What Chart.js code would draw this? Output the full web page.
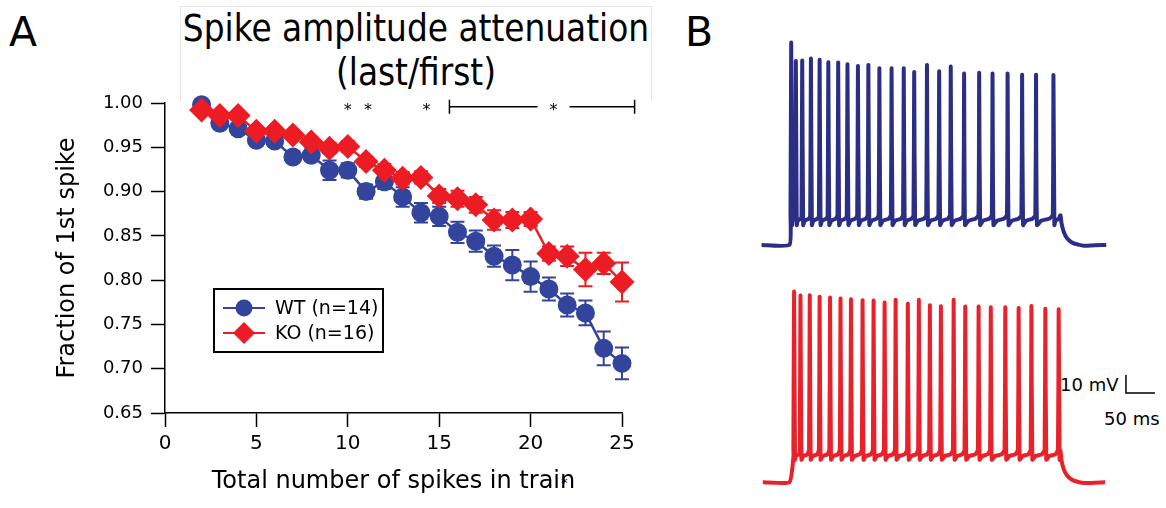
<!DOCTYPE html>
<html>
<head>
<meta charset="utf-8">
<script src="https://cdn.jsdelivr.net/npm/chart.js@4.4.1/dist/chart.umd.min.js"></script>
<style>
    body { margin: 0; background: #fff; width: 1166px; height: 508px; overflow: hidden; position: relative; font-family: "DejaVu Sans", sans-serif; color: #000; }
    canvas { position: absolute; }
    .txt { position: absolute; white-space: nowrap; line-height: 1; }
    #titleBox { position: absolute; left: 180px; top: 6px; width: 470px; height: 94px; border: 1px solid #e6e6e6; border-bottom: none; }
    #title { position: absolute; left: 180px; top: 7px; width: 472px; text-align: center; font-family: "DejaVu Sans Condensed", "DejaVu Sans", sans-serif; font-size: 36.5px; line-height: 44px; }
</style>
</head>
<body>
<div id="titleBox"></div>
<div id="title">Spike amplitude attenuation<br>(last/first)</div>
<div class="txt" style="left:9px;top:12px;font-size:41px">A</div>
<div class="txt" style="left:685px;top:12px;font-size:41px">B</div>
<div class="txt" style="left:1060px;top:376px;font-size:18px">10 mV</div>
<div class="txt" style="left:1104px;top:410px;font-size:18px">50 ms</div>
<div class="txt" style="left:561px;top:476px;font-size:13px">*</div>

<canvas id="chartA" width="700" height="508" style="left:0;top:0"></canvas>
<canvas id="traceWT" width="416" height="230" style="left:750px;top:30px"></canvas>
<canvas id="traceKO" width="416" height="230" style="left:750px;top:270px"></canvas>

<script>
// panel A: fraction of 1st spike vs spike count
const spikeCount = [2, 3, 4, 5, 6, 7, 8, 9, 10, 11, 12, 13, 14, 15, 16, 17, 18, 19, 20, 21, 22, 23, 24, 25]
const wtMean = [0.998, 0.977, 0.971, 0.958, 0.957, 0.939, 0.941, 0.924, 0.924, 0.900, 0.911, 0.894, 0.876, 0.872, 0.854, 0.844, 0.827, 0.817, 0.804, 0.790, 0.772, 0.763, 0.723, 0.706]
const wtSem = [0.003, 0.004, 0.004, 0.005, 0.005, 0.006, 0.006, 0.011, 0.008, 0.008, 0.008, 0.011, 0.011, 0.011, 0.012, 0.012, 0.012, 0.017, 0.017, 0.013, 0.013, 0.014, 0.019, 0.018]
const koMean = [0.992, 0.986, 0.986, 0.968, 0.968, 0.964, 0.956, 0.949, 0.951, 0.934, 0.924, 0.915, 0.916, 0.895, 0.892, 0.885, 0.868, 0.868, 0.869, 0.830, 0.827, 0.812, 0.819, 0.798]
const koSem = [0.004, 0.004, 0.004, 0.005, 0.005, 0.005, 0.006, 0.006, 0.006, 0.006, 0.007, 0.007, 0.007, 0.008, 0.009, 0.009, 0.011, 0.009, 0.008, 0.008, 0.011, 0.019, 0.012, 0.022]
const seriesNames = ["WT (n=14)", "KO (n=16)"]
const xTicks = [0, 5, 10, 15, 20, 25]

// significance marks
const sigStarsX = [10, 11.1, 14.3]
const sigBracket = [15.56, 20.38, 22.13, 25.69]
const sigBracketStar = 21.25
const sigLevel = 0.9958

// panel B: example voltage traces (ms, mV)
const wtSpikeTimes = [71, 79, 90, 105, 120, 135, 152, 168, 186, 204, 223, 244, 265, 283, 305, 326, 346, 369, 395, 418, 444, 469, 493, 523]
const wtSpikePeaks = [42.4, 32.2, 32.4, 33.5, 32.8, 31.5, 31.3, 30.4, 29.4, 30.0, 28.2, 28.2, 28.2, 26.1, 30.0, 26.5, 29.1, 25.2, 25.6, 25.2, 25.2, 24.6, 24.6, 24.4]
const koSpikeTimes = [76, 87, 103, 120, 138, 156, 174, 194, 213, 232, 251, 272, 291, 310, 329, 351, 371, 394, 415, 440, 463, 485, 509, 532]
const koSpikePeaks = [35.9, 33.7, 33.9, 33.1, 32.6, 32.0, 31.7, 31.1, 30.9, 29.8, 31.3, 29.2, 31.3, 28.3, 27.8, 31.3, 27.6, 27.6, 27.2, 27.2, 26.8, 27.9, 26.4, 26.1]
const decayTimes = [2, 6, 12, 22, 40]
const decayVolts = [-58, -63, -66.5, -69, -70.5]

const blue = "#32449b"
const red = "#ed1c24"
const font = "DejaVu Sans"

Chart.defaults.font.family = font
Chart.defaults.color = "#000"

const toPoints = (xs, ys) => xs.map((x, i) => ({ x: x, y: ys[i] }))

const errorBars = {
    id: "errorBars",
    beforeDatasetsDraw(chart) {
        const ctx = chart.ctx
        const { x, y } = chart.scales
        const sets = [[wtMean, wtSem, blue], [koMean, koSem, red]]
        ctx.save()
        ctx.lineWidth = 2
        sets.forEach(([mean, sem, color]) => {
            ctx.strokeStyle = color
            spikeCount.forEach((n, i) => {
                const px = x.getPixelForValue(n)
                const top = y.getPixelForValue(mean[i] + sem[i])
                const bottom = y.getPixelForValue(mean[i] - sem[i])
                ctx.beginPath()
                ctx.moveTo(px, top); ctx.lineTo(px, bottom)
                ctx.moveTo(px - 7, top); ctx.lineTo(px + 7, top)
                ctx.moveTo(px - 7, bottom); ctx.lineTo(px + 7, bottom)
                ctx.stroke()
            })
        })
        ctx.restore()
    }
}

const significance = {
    id: "significance",
    afterDraw(chart) {
        const ctx = chart.ctx
        const { x, y } = chart.scales
        const py = y.getPixelForValue(sigLevel)
        ctx.save()
        ctx.fillStyle = "#000"
        ctx.strokeStyle = "#000"
        ctx.font = `16px "${font}"`
        ctx.textAlign = "center"
        ctx.textBaseline = "middle"
        const star = v => ctx.fillText("*", x.getPixelForValue(v), py + 4)
        sigStarsX.forEach(star)
        star(sigBracketStar)
        const [a, b, c, d] = sigBracket.map(v => x.getPixelForValue(v))
        ctx.lineWidth = 1.5
        ctx.beginPath()
        ctx.moveTo(a, py); ctx.lineTo(b, py)
        ctx.moveTo(c, py); ctx.lineTo(d, py)
        ctx.moveTo(a, py - 7); ctx.lineTo(a, py + 7)
        ctx.moveTo(d, py - 7); ctx.lineTo(d, py + 7)
        ctx.stroke()
        ctx.restore()
    }
}

const legendBox = {
    id: "legendBox",
    afterDraw(chart) {
        const ctx = chart.ctx
        const { left, top } = chart.chartArea
        const bx = left + 49, by = top + 186
        ctx.save()
        ctx.lineWidth = 2
        ctx.strokeStyle = "#000"
        ctx.strokeRect(bx, by, 169, 63)
        const rows = [[blue, "circle"], [red, "diamond"]]
        rows.forEach(([color, shape], i) => {
            const cy = by + 19 + i * 25
            const cx = bx + 30
            ctx.strokeStyle = color
            ctx.fillStyle = color
            ctx.lineWidth = 2
            ctx.beginPath()
            ctx.moveTo(bx + 9, cy); ctx.lineTo(bx + 51, cy)
            ctx.stroke()
            ctx.beginPath()
            if (shape === "circle") {
                ctx.arc(cx, cy, 8.5, 0, Math.PI * 2)
            } else {
                ctx.moveTo(cx - 11, cy); ctx.lineTo(cx, cy - 11)
                ctx.lineTo(cx + 11, cy); ctx.lineTo(cx, cy + 11)
                ctx.closePath()
            }
            ctx.fill()
            ctx.fillStyle = "#000"
            ctx.font = `19px "${font}"`
            ctx.textBaseline = "middle"
            ctx.fillText(seriesNames[i], bx + 61, cy + 1)
        })
        ctx.restore()
    }
}

new Chart(document.querySelector("#chartA"), {
    type: "line",
    data: {
        datasets: [
            {
                label: seriesNames[0],
                data: toPoints(spikeCount, wtMean),
                borderColor: blue,
                backgroundColor: blue,
                borderWidth: 2.5,
                pointStyle: "circle",
                pointRadius: 9.5,
                pointBorderWidth: 0,
                clip: false,
                order: 1
            },
            {
                label: seriesNames[1],
                data: toPoints(spikeCount, koMean),
                borderColor: red,
                backgroundColor: red,
                borderWidth: 2.5,
                pointStyle: "rectRot",
                pointRadius: 12.5,
                pointBorderWidth: 0,
                clip: false,
                order: 0
            }
        ]
    },
    options: {
        responsive: false,
        animation: false,
        events: [],
        layout: { padding: { top: 103, right: 78, left: 0, bottom: 0 } },
        plugins: { legend: { display: false }, tooltip: { enabled: false } },
        scales: {
            x: {
                type: "linear",
                min: 0,
                max: 25,
                afterBuildTicks: scale => { scale.ticks = xTicks.map(v => ({ value: v })) },
                afterFit: scale => { scale.height = 95 },
                ticks: { font: { size: 20 }, color: "#000", padding: 5, maxRotation: 0 },
                grid: { drawOnChartArea: false, drawTicks: true, tickLength: 14, tickColor: "#000", tickWidth: 1.5 },
                border: { display: true, color: "#000", width: 1.5 },
                title: { display: true, text: "Total number of spikes in train", font: { size: 24 }, color: "#000", padding: { top: 0, bottom: 12 } }
            },
            y: {
                min: 0.65,
                max: 1.0,
                afterFit: scale => { scale.width = 165 },
                ticks: { stepSize: 0.05, font: { size: 18 }, color: "#000", padding: 8, callback: v => v.toFixed(2) },
                grid: { drawOnChartArea: false, drawTicks: true, tickLength: 14, tickColor: "#000", tickWidth: 1.5 },
                border: { display: true, color: "#000", width: 1.5 },
                title: { display: true, text: "Fraction of 1st spike", font: { size: 24 }, color: "#000", padding: { top: 53, bottom: 0 } }
            }
        }
    },
    plugins: [errorBars, significance, legendBox]
})

// membrane trace: AHP trough after each spike, flat plateau, slow climb to threshold
function buildTrace(times, peaks, env) {
    const pts = [{ x: env.start, y: env.rest }, { x: env.on, y: env.rest }]
    if (env.rise) pts.push({ x: env.on + env.rise, y: env.plateau })
    times.forEach((t, i) => {
        const next = i < times.length - 1 ? times[i + 1] : env.off
        const isi = next - t
        pts.push({ x: t - 1.2, y: env.threshold })
        pts.push({ x: t, y: peaks[i] })
        pts.push({ x: t + 1.6, y: env.trough })
        if (isi > 6) {
            pts.push({ x: t + isi * 0.3, y: env.plateau })
            pts.push({ x: t + isi * 0.75, y: env.plateau + 1 })
        }
    })
    pts.push({ x: env.off, y: env.threshold })
    decayTimes.forEach((dt, k) => pts.push({ x: env.off + dt, y: decayVolts[k] }))
    pts.push({ x: env.end, y: env.rest })
    return pts
}

const scaleBar = {
    id: "scaleBar",
    afterDraw(chart) {
        const ctx = chart.ctx
        const { x, y } = chart.scales
        const x0 = x.getPixelForValue(648), x1 = x.getPixelForValue(698)
        const y0 = y.getPixelForValue(-20.4), y1 = y.getPixelForValue(-10.4)
        ctx.save()
        ctx.strokeStyle = "#000"
        ctx.lineWidth = 1.5
        ctx.beginPath()
        ctx.moveTo(x0, y1); ctx.lineTo(x0, y0); ctx.lineTo(x1, y0)
        ctx.stroke()
        ctx.restore()
    }
}

function createTrace(id, points, color, yMin, yMax, extra) {
    return new Chart(document.querySelector(id), {
        type: "line",
        data: { datasets: [{ data: points, borderColor: color, borderWidth: 4, pointRadius: 0, tension: 0.15, clip: false }] },
        options: {
            responsive: false,
            animation: false,
            events: [],
            layout: { padding: 0 },
            plugins: { legend: { display: false }, tooltip: { enabled: false } },
            scales: {
                x: { type: "linear", min: 0, max: 717, display: false },
                y: { min: yMin, max: yMax, display: false }
            }
        },
        plugins: extra
    })
}

const wtEnv = { start: 20, on: 68, rise: 0, rest: -70, plateau: -56.5, trough: -59, threshold: -53.5, off: 535, end: 614 }
const koEnv = { start: 22, on: 68, rise: 7, rest: -70, plateau: -55.5, trough: -57.5, threshold: -52, off: 535, end: 612 }

createTrace("#traceWT", buildTrace(wtSpikeTimes, wtSpikePeaks, wtEnv), "#2b2e85", -78.4, 49.4, [])
createTrace("#traceKO", buildTrace(koSpikeTimes, koSpikePeaks, koEnv), "#e8212b", -79.9, 47.9, [scaleBar])
</script>
</body>
</html>
